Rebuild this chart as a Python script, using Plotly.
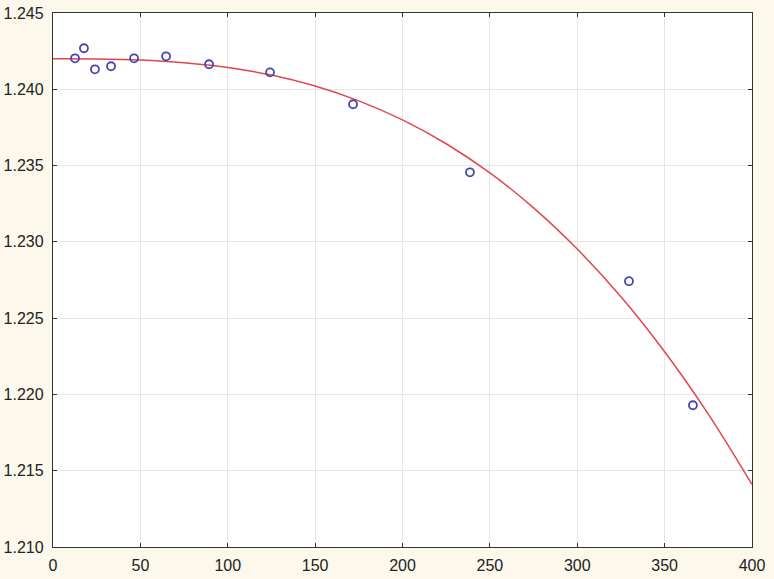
import plotly.graph_objects as go

# Observed data points
x_points = [12.6, 17.7, 24.0, 33.2, 46.4, 64.7, 89.3, 124.2, 171.7, 238.6, 329.6, 366.2]
y_points = [1.24203, 1.24269, 1.24131, 1.24151, 1.24203, 1.24216, 1.24164, 1.24111,
            1.23902, 1.23456, 1.22742, 1.21929]

# Fitted curve
x_curve = [0, 25, 50, 75, 100, 125, 150, 175, 200, 225, 250, 275, 300, 325, 350, 375, 400]
y_curve = [1.24200, 1.24199, 1.24192, 1.24174, 1.24143, 1.24093, 1.24021, 1.23924,
           1.23799, 1.23643, 1.23452, 1.23223, 1.22953, 1.22640, 1.22280, 1.21871, 1.21410]

x_ticks = [0, 50, 100, 150, 200, 250, 300, 350, 400]
y_ticks = [1.210, 1.215, 1.220, 1.225, 1.230, 1.235, 1.240, 1.245]

fig = go.Figure()
fig.add_trace(go.Scatter(
    x=x_curve, y=y_curve, mode="lines", line=dict(color="#E0474C", width=1.5, shape="spline"),
    showlegend=False, hoverinfo="skip"))
fig.add_trace(go.Scatter(
    x=x_points, y=y_points, mode="markers",
    marker=dict(symbol="circle-open", size=8, color="#4646AE", line=dict(width=1.8, color="#4646AE")),
    showlegend=False))

axis_common = dict(
    showgrid=True, gridcolor="#E6E6E6", gridwidth=1,
    showline=True, linecolor="#333333", linewidth=1.3, mirror="ticks",
    ticks="inside", ticklen=4, tickcolor="#333333",
    zeroline=False, automargin=False,
    tickfont=dict(family="Arial, Liberation Sans, sans-serif", size=16, color="#222222"),
)

fig.update_xaxes(range=[0, 400], tickvals=x_ticks, ticktext=[str(v) for v in x_ticks],
                 ticklabelstandoff=4, **axis_common)
fig.update_yaxes(range=[1.210, 1.245], tickvals=y_ticks, ticktext=[f"{v:.3f}" for v in y_ticks],
                 ticklabelstandoff=5, **axis_common)

fig.update_layout(
    width=774, height=579,
    margin=dict(l=53, r=22, t=13, b=32),
    paper_bgcolor="#FCF8EC",
    plot_bgcolor="#FFFFFF",
)

fig.write_html(
    "out.html",
    config={"displayModeBar": False},
    post_script="document.body.style.margin='0';document.body.style.padding='0';"
                "document.body.style.background='#FCF8EC';document.body.style.overflow='hidden';",
)
